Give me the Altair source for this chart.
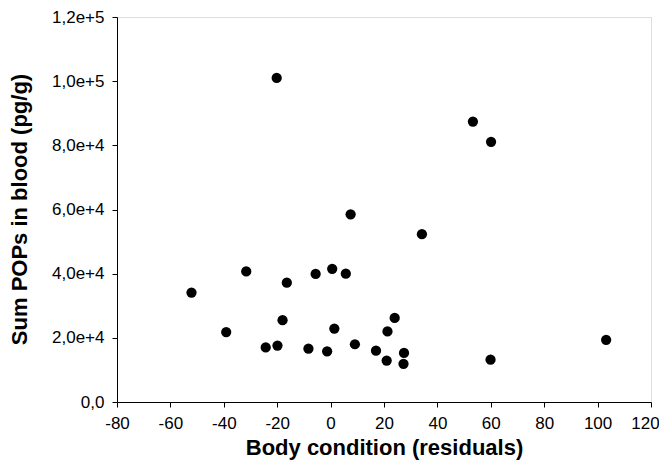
import altair as alt
import pandas as pd

body_condition = [-20.2, 53.3, 60.1, 7.5, 34.2, -31.6, -5.6, 0.6, 5.7, -16.4,
                  -52.1, -18.0, 24.0, -39.1, 1.4, 21.3, -24.3, -19.9, -8.3, -1.3,
                  9.1, 17.0, 21.0, 27.5, 27.3, 59.9, 103.2]
sum_pops = [101000, 87400, 81100, 58500, 52300, 40700, 39900, 41500, 40000, 37200,
            34100, 25500, 26200, 21800, 22900, 22000, 17000, 17600, 16600, 15800,
            18000, 16000, 12900, 15300, 11900, 13200, 19400]

x_ticks = [-80, -60, -40, -20, 0, 20, 40, 60, 80, 100, 120]
y_ticks = [0, 20000, 40000, 60000, 80000, 100000, 120000]

df = pd.DataFrame({"x": body_condition, "y": sum_pops})

FONT = "Liberation Sans"

chart = alt.Chart(df).mark_circle(size=105, color="black", opacity=1).encode(
    x=alt.X("x:Q",
            scale=alt.Scale(domain=[-80, 120], nice=False, zero=False),
            axis=alt.Axis(values=x_ticks, title="Body condition (residuals)",
                          grid=False, tickSize=5, labelPadding=8,
                          labelExpr="'' + datum.value",
                          labelOffset=alt.ConditionalAxisNumber(
                              condition={"test": "datum.value == 120", "value": -6},
                              value=0),
                          labelFontSize=17, labelFont=FONT, labelColor="black",
                          titleFont=FONT, titleFontSize=22, titleFontWeight="bold",
                          titleColor="black", titleBaseline="top", titleY=35,
                          domainColor="black", tickColor="black",
                          labelFlush=False, labelOverlap=False)),
    y=alt.Y("y:Q",
            scale=alt.Scale(domain=[0, 120000], nice=False),
            axis=alt.Axis(values=y_ticks, title="Sum POPs in blood (pg/g)",
                          grid=False, tickSize=5, labelPadding=8,
                          labelExpr="datum.value == 0 ? '0,0' : replace(format(datum.value, '.1e'), '.', ',')",
                          labelFontSize=17, labelFont=FONT, labelColor="black",
                          titleFont=FONT, titleFontSize=22, titleFontWeight="bold",
                          titleColor="black", titleX=-86, titleY=192,
                          domainColor="black", tickColor="black",
                          labelFlush=False, labelOverlap=False)),
).properties(
    width=534,
    height=385,
    autosize=alt.AutoSizeParams(type="none"),
    padding={"left": 109, "top": 9, "right": 8, "bottom": 64},
).configure_view(
    stroke="black", strokeWidth=1
).configure(background="white")

chart.save("out.html", embed_options={"renderer": "svg", "actions": False})
